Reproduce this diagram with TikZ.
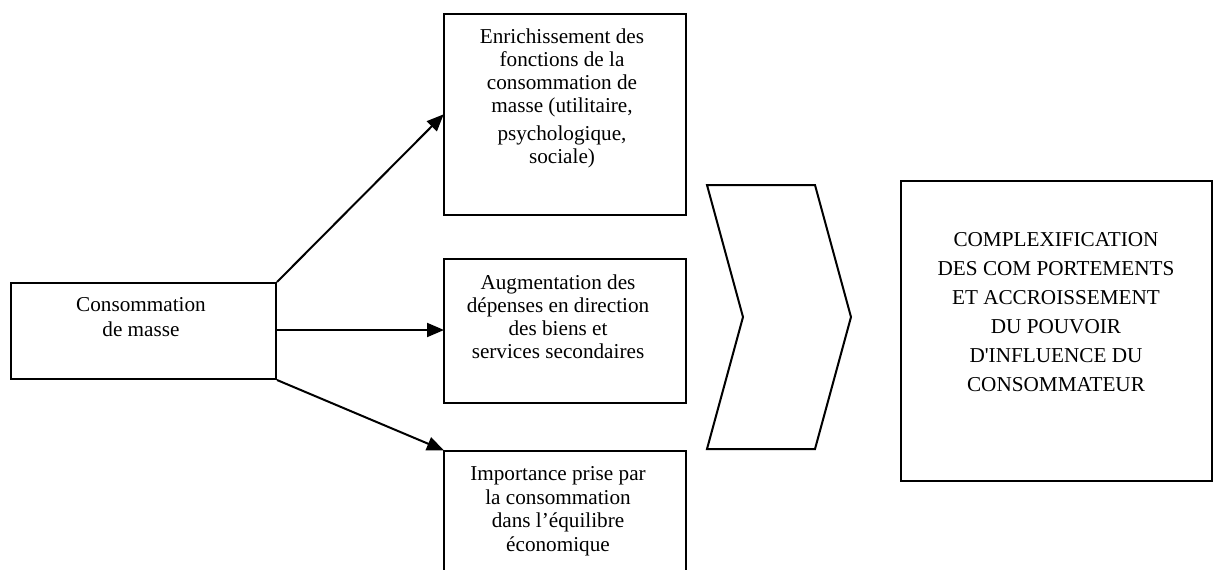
\documentclass[tikz,border=0pt]{standalone}
\usepackage{fontspec}
\setmainfont{Liberation Serif}[Ligatures=TeXOff]
\usetikzlibrary{arrows.meta}
\begin{document}
\begin{tikzpicture}[x=1pt,y=-1pt,
  box/.style={draw, line width=2pt, inner sep=0pt, anchor=north west},
  label/.style={align=center, inner sep=0pt, font=\fontsize{21.2}{23}\selectfont},
  arr/.style={line width=2pt, -{Triangle[length=17pt,width=14pt]}, shorten >=-1pt}]
\useasboundingbox (0,0) rectangle (1213,570);
\clip (0,0) rectangle (1213,570);

% boxes
\node[box, minimum width=265pt, minimum height=96pt]  (src) at (10,282) {};
\node[box, minimum width=242pt, minimum height=201pt] (fn)  at (443,13) {};
\node[box, minimum width=242pt, minimum height=144pt] (dep) at (443,258) {};
\node[box, minimum width=242pt, minimum height=160pt] (eq)  at (443,450) {};
\node[box, minimum width=311pt, minimum height=300pt] (res) at (900,180) {};

% chevron between the branches and the result
\draw[line width=2pt, line join=miter]
  (707,185) -- (815,185) -- (851,317) -- (815,449) -- (707,449) -- (743,317) -- cycle;

% texts
\node[label, font=\fontsize{21.2}{25}\selectfont] (srct) at (141,317.5) {Consommation\\de masse};
\node[label] (fnt) at (562,98) {Enrichissement des\\fonctions de la\\consommation de\\masse (utilitaire,\\[5pt]psychologique,\\sociale)};
\node[label] (dept) at (558,317) {Augmentation des\\dépenses en direction\\des biens et\\services secondaires};
\node[label, font=\fontsize{21.2}{23.5}\selectfont] (eqt) at (558,511) {Importance prise par\\la consommation\\dans l’équilibre\\économique};
\node[label, font=\fontsize{21.2}{29}\selectfont] (rest) at (1056,312.5) {COMPLEXIFICATION\\DES COM PORTEMENTS\\ET ACCROISSEMENT\\DU POUVOIR\\D'INFLUENCE DU\\CONSOMMATEUR};

% arrow targets on the left sides of the branch boxes
\coordinate (fnin) at (443,115);
\coordinate (srcmid) at (275,330);
\coordinate (depin) at (443,330);

% connectors
\draw[arr] (src.north east) -- (fnin);
\draw[arr] (srcmid) -- (depin);
\draw[arr] (src.south east) -- (eq.north west);
\end{tikzpicture}
\end{document}
